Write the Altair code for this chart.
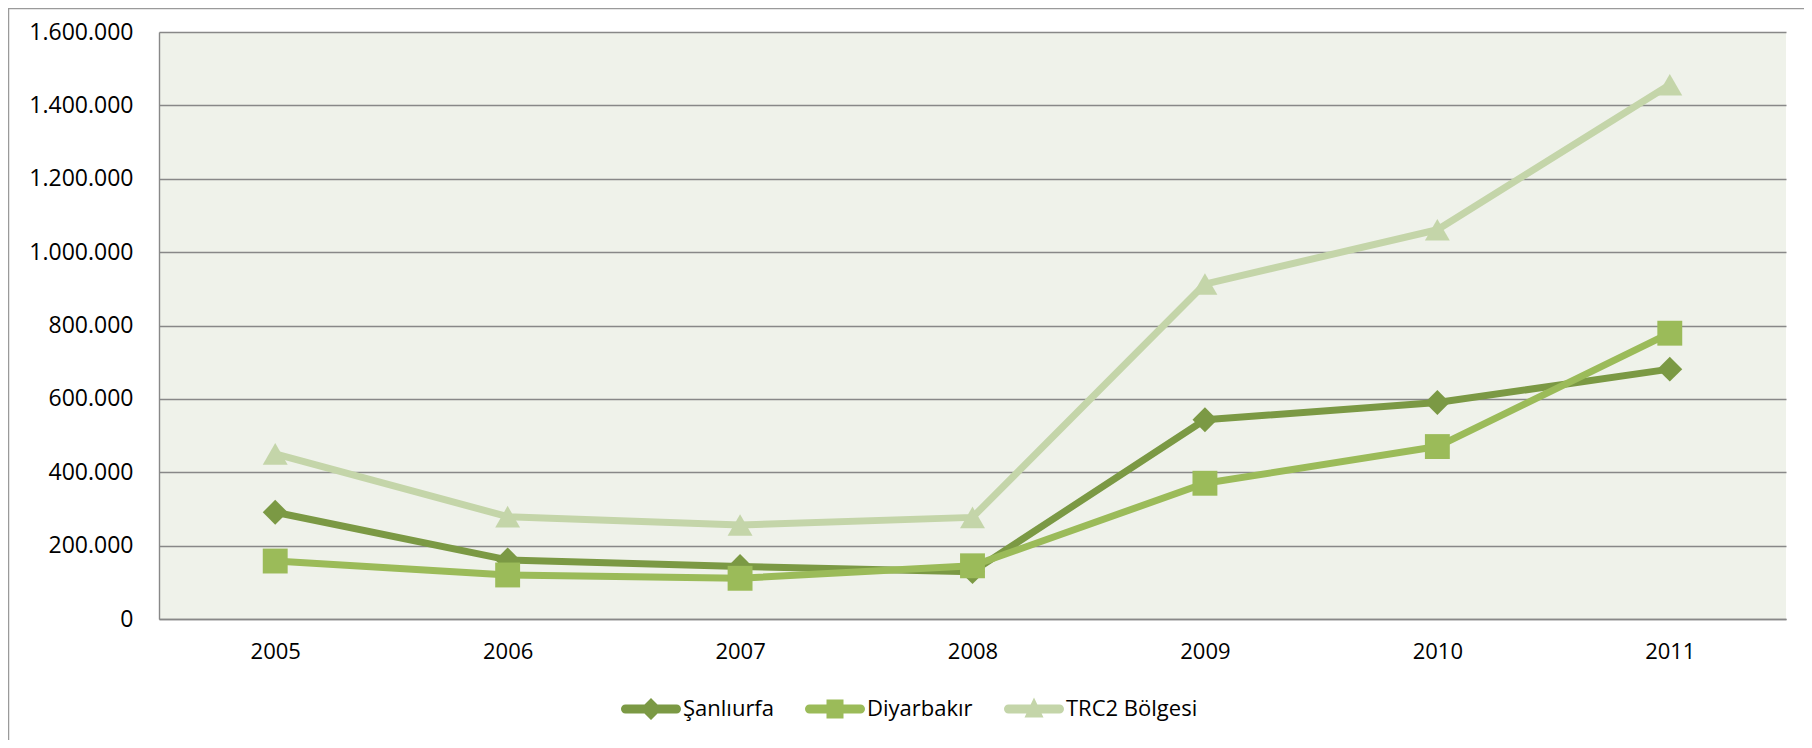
import altair as alt
import pandas as pd

years = ["2005", "2006", "2007", "2008", "2009", "2010", "2011"]
series = ["Şanlıurfa", "Diyarbakır", "TRC2 Bölgesi"]
sanliurfa = [291000, 161000, 143000, 129000, 543000, 590000, 681000]
diyarbakir = [158000, 120000, 111000, 145000, 370000, 470000, 779000]
trc2 = [450000, 279000, 256000, 277000, 913000, 1061000, 1456000]
y_ticks = [0, 200000, 400000, 600000, 800000, 1000000, 1200000, 1400000, 1600000]

colors = ["#7B9944", "#9BBB59", "#C4D5A9"]
marker_shapes = ["diamond", "square", "triangle-up"]
bar = "M-0.55,-0.45 H4.55 A0.45,0.45 0 0 1 4.55,0.45 H-0.55 A0.45,0.45 0 0 1 -0.55,-0.45 Z "
legend_paths = [
    bar + "M2,-1.1 L3.1,0 L2,1.1 L0.9,0 Z",
    bar + "M1.15,-0.95 H2.85 V0.95 H1.15 Z",
    bar + "M2,-1.15 L2.95,0.85 L1.05,0.85 Z",
]

rows = []
for name, vals in zip(series, [sanliurfa, diyarbakir, trc2]):
    for yr, v in zip(years, vals):
        rows.append({"Yıl": yr, "Seri": name, "Değer": v})
df = pd.DataFrame(rows)

FONT = "Open Sans"
GRID = "#888888"

x_enc = alt.X("Yıl:O", sort=years, scale=alt.Scale(type="point", padding=0.5),
              axis=alt.Axis(title=None, labelAngle=0, ticks=False, tickSize=0, grid=False,
                            domainColor=GRID, domainWidth=1.4, labelPadding=22,
                            labelFontSize=22, labelFont=FONT, labelColor="#000000"))
y_enc = alt.Y("Değer:Q", scale=alt.Scale(domain=[0, 1600000], nice=False),
              axis=alt.Axis(title=None, values=y_ticks, ticks=False, tickSize=0,
                            grid=True, gridColor=GRID, gridWidth=1.4,
                            domainColor=GRID, domainWidth=1.4, labelPadding=26,
                            labelFontSize=23, labelFont=FONT, labelColor="#000000",
                            labelExpr="replace(replace(format(datum.value, ','), ',', '.'), ',', '.')"))
color_scale = alt.Scale(domain=series, range=colors)

base = alt.Chart(df)

lines = base.mark_line(strokeWidth=7, strokeJoin="round").encode(
    x=x_enc, y=y_enc,
    color=alt.Color("Seri:N", scale=color_scale, legend=None),
    order=alt.Order("Yıl:O"),
)

points = base.mark_point(filled=True, size=620, opacity=1).encode(
    x=x_enc, y=y_enc,
    color=alt.Color("Seri:N", scale=color_scale, legend=None),
    shape=alt.Shape("Seri:N", scale=alt.Scale(domain=series, range=marker_shapes), legend=None),
)

leg = alt.Legend(title=None, orient="none", legendX=461, legendY=666,
                 direction="horizontal", columns=3, columnPadding=30,
                 symbolSize=400, symbolStrokeWidth=0, symbolOpacity=1,
                 labelOffset=41, labelFontSize=22, labelFont=FONT,
                 labelColor="#000000", padding=0)

legend_layer = base.mark_point(filled=True, size=400, opacity=0).encode(
    x=x_enc, y=y_enc,
    color=alt.Color("Seri:N", scale=alt.Scale(domain=series, range=colors), legend=leg),
    shape=alt.Shape("Seri:N", scale=alt.Scale(domain=series, range=legend_paths), legend=leg),
)

frame_df = pd.DataFrame({"k": [0]})
frame_left = alt.Chart(frame_df).mark_rule(color="#9A9A9A", strokeWidth=1.5).encode(
    x=alt.value(-150.5), y=alt.value(-24), y2=alt.value(720))
frame_top = alt.Chart(frame_df).mark_rule(color="#9A9A9A", strokeWidth=1.5).encode(
    x=alt.value(-151), x2=alt.value(1650), y=alt.value(-23.5))

chart = alt.layer(lines, points, legend_layer, frame_left, frame_top).resolve_scale(
    shape="independent", color="independent"
).properties(
    width=1627, height=587,
    padding={"left": 151, "top": 24, "right": 18, "bottom": 121},
    autosize=alt.AutoSizeParams(type="none"),
    background="#FFFFFF",
).configure_view(fill="#EFF2EA", strokeWidth=0)

chart.save("out.html", embed_options={"renderer": "svg", "actions": False})
